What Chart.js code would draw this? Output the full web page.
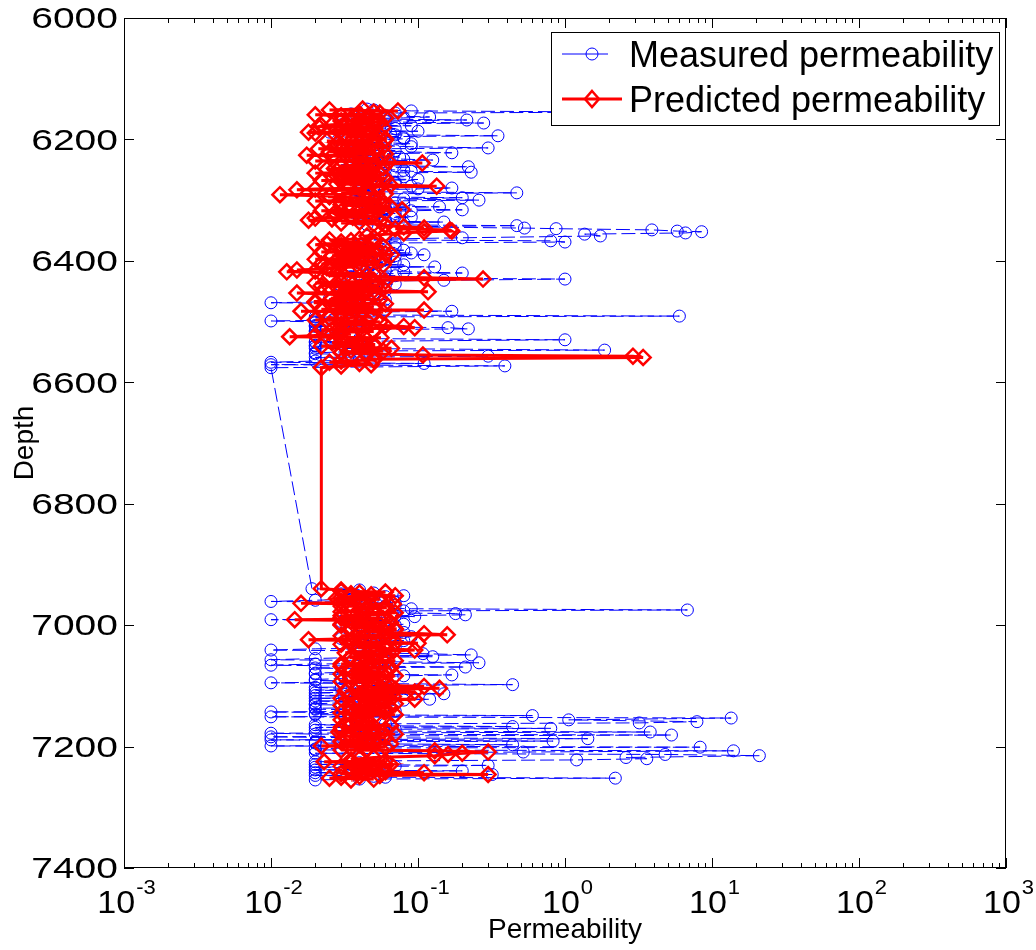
<!DOCTYPE html>
<html>
<head>
<meta charset="utf-8">
<script src="https://cdn.jsdelivr.net/npm/chart.js@4"></script>
<style>
  body { margin: 0; background: #fff; }
  #wrap { width: 1036px; height: 950px; }
</style>
</head>
<body>
<div id="wrap"><canvas id="permChart"></canvas></div>
<script>
// depth samples (ft) shared by both curves
const depth = [
  6150,6153,6155,6158,6161,6163,6166,6168,6171,6173,6176,6179,6182,6185,6188,6191,6194,6197,6201,6204,
  6207,6210,6214,6217,6220,6222,6226,6229,6231,6234,6237,6239,6242,6245,6248,6251,6254,6257,6260,6263,
  6266,6269,6272,6275,6277,6280,6283,6286,6288,6291,6293,6296,6300,6303,6306,6309,6311,6314,6316,6319,
  6322,6325,6328,6331,6333,6336,6339,6342,6344,6346,6347,6349,6351,6352,6354,6356,6359,6362,6364,6367,
  6369,6372,6375,6378,6381,6384,6387,6390,6393,6396,6399,6402,6405,6408,6410,6413,6415,6418,6420,6423,
  6426,6428,6430,6432,6435,6438,6441,6444,6447,6449,6451,6453,6456,6459,6462,6465,6469,6472,6475,6478,
  6481,6483,6486,6489,6491,6494,6496,6499,6502,6505,6508,6510,6512,6515,6518,6521,6525,6528,6530,6533,
  6536,6539,6542,6544,6547,6550,6553,6555,6557,6559,6562,6565,6567,6569,6571,6573,6576,
  6940,6944,6947,6950,6953,6956,6959,6961,6964,6967,6970,6973,6975,6978,6981,6983,6986,6988,6991,6994,
  6997,7000,7003,7006,7009,7012,7014,7016,7019,7022,7024,7027,7030,7033,7036,7039,7041,7044,7047,7049,
  7052,7055,7057,7060,7062,7064,7066,7069,7072,7075,7079,7082,7085,7088,7091,7095,7098,7101,7104,7107,
  7110,7113,7116,7119,7122,7125,7128,7131,7134,7137,7140,7143,7146,7149,7151,7153,7156,7159,7161,7164,
  7167,7170,7173,7176,7178,7181,7184,7187,7189,7191,7194,7197,7199,7201,7204,7207,7209,7211,7213,7215,
  7218,7220,7222,7225,7228,7231,7234,7237,7240,7243,7246,7249,7252,7255
];

// measured permeability (core data)
const measured = [
  0.045,0.09,3.0,0.035,0.06,0.12,0.04,0.215,0.05,0.28,0.03,0.055,0.07,0.04,0.025,0.065,0.35,0.08,0.045,0.03,
  0.09,0.05,0.30,0.04,0.06,0.17,0.035,0.075,0.05,0.126,0.04,0.06,0.03,0.22,0.05,0.08,0.23,0.04,0.06,0.035,
  0.1,0.05,0.07,0.045,0.09,0.17,0.05,0.04,0.47,0.06,0.035,0.20,0.26,0.05,0.08,0.04,0.14,0.06,0.20,0.045,
  0.07,0.05,0.09,0.04,0.06,0.15,0.05,0.47,0.08,0.53,0.87,3.9,5.8,8.5,6.6,1.36,1.74,0.2,0.06,0.8,
  1.0,0.05,0.04,0.07,0.035,0.05,0.09,0.11,0.04,0.06,0.045,0.07,0.05,0.035,0.13,0.05,0.04,0.08,0.2,0.05,
  0.035,0.06,1.0,0.15,0.045,0.07,0.03,0.05,0.04,0.06,0.035,0.05,0.03,0.045,0.025,0.04,0.01,0.03,0.05,0.035,
  0.06,0.17,0.04,0.025,6.0,0.03,0.02,0.01,0.02,0.03,0.02,0.16,0.22,0.02,0.035,0.02,0.025,0.04,1.0,0.02,
  0.03,0.02,0.045,0.02,1.86,0.03,0.02,0.05,0.3,0.02,0.04,0.02,0.01,0.11,0.01,0.39,0.01,
  0.019,0.03,0.05,0.035,0.06,0.04,0.02,0.01,0.045,0.07,0.04,0.09,6.8,0.05,0.18,0.21,0.095,0.04,0.01,0.03,
  0.05,0.07,0.04,0.06,0.035,0.08,0.05,0.045,0.09,0.03,0.05,0.04,0.07,0.035,0.05,0.02,0.01,0.04,0.108,0.23,
  0.126,0.02,0.01,0.05,0.26,0.02,0.01,0.21,0.04,0.06,0.02,0.17,0.05,0.03,0.02,0.01,0.44,0.05,0.03,0.02,
  0.04,0.15,0.02,0.045,0.12,0.02,0.03,0.02,0.05,0.02,0.06,0.01,0.02,0.6,0.01,13.5,1.06,7.9,3.2,0.02,
  0.44,0.8,0.02,3.8,0.01,5.3,0.01,1.43,0.01,0.83,0.02,0.44,0.01,8.3,0.02,14,0.52,0.02,4.8,21,
  2.6,3.6,1.2,0.02,0.05,0.3,0.02,0.06,0.2,0.02,0.32,0.05,2.2,0.02
];

// predicted permeability (model output)
const predicted = [
  0.042,0.073,0.05,0.04,0.03,0.045,0.035,0.05,0.055,0.032,0.026,0.021,0.038,0.03,0.018,0.04,0.045,0.05,0.06,0.035,
  0.028,0.042,0.037,0.03,0.025,0.033,0.0175,0.04,0.046,0.035,0.063,0.107,0.04,0.03,0.027,0.045,0.038,0.05,0.028,0.035,
  0.042,0.03,0.04,0.065,0.134,0.04,0.015,0.03,0.045,0.0115,0.025,0.038,0.05,0.03,0.042,0.035,0.065,0.04,0.078,0.03,
  0.027,0.045,0.036,0.026,0.018,0.04,0.05,0.06,0.08,0.11,0.07,0.165,0.17,0.11,0.08,0.06,0.045,0.05,0.04,0.035,
  0.03,0.024,0.03,0.045,0.04,0.03,0.05,0.066,0.04,0.035,0.028,0.04,0.022,0.03,0.04,0.025,0.015,0.0128,0.03,0.045,
  0.04,0.11,0.277,0.05,0.03,0.036,0.022,0.04,0.03,0.045,0.117,0.015,0.03,0.04,0.026,0.035,0.02,0.04,0.028,0.035,
  0.11,0.016,0.03,0.04,0.035,0.025,0.03,0.045,0.04,0.03,0.08,0.095,0.04,0.03,0.025,0.035,0.0134,0.03,0.045,0.04,
  0.03,0.05,0.04,0.066,0.035,0.03,0.045,0.108,2.9,3.4,0.05,0.03,0.025,0.04,0.048,0.03,0.022,
  0.022,0.03,0.04,0.048,0.035,0.028,0.04,0.03,0.016,0.035,0.06,0.045,0.04,0.03,0.05,0.065,0.04,0.03,0.0145,0.035,
  0.045,0.03,0.04,0.07,0.05,0.06,0.11,0.158,0.06,0.04,0.018,0.035,0.1,0.05,0.04,0.06,0.095,0.04,0.05,0.06,
  0.035,0.045,0.05,0.04,0.06,0.03,0.045,0.05,0.04,0.035,0.05,0.04,0.06,0.045,0.04,0.05,0.06,0.11,0.14,0.05,
  0.095,0.04,0.06,0.05,0.095,0.04,0.055,0.045,0.035,0.05,0.04,0.06,0.045,0.035,0.05,0.04,0.03,0.045,0.04,0.035,
  0.05,0.04,0.03,0.029,0.04,0.05,0.035,0.045,0.04,0.03,0.05,0.04,0.022,0.06,0.045,0.13,0.3,0.2,0.16,0.13,
  0.05,0.04,0.035,0.023,0.045,0.06,0.04,0.05,0.035,0.11,0.3,0.04,0.025,0.035
];

// in-between samples of the dense core intervals
const depthInfill = [
  6151.5,6156.5,6159.5,6164.5,6169.5,6174.5,6177.5,6180.5,6183.5,6186.5,
  6189.5,6192.5,6195.5,6199,6202.5,6205.5,6208.5,6212,6215.5,6218.5,
  6224,6227.5,6232.5,6235.5,6240.5,6243.5,6246.5,6249.5,6252.5,6255.5,
  6258.5,6261.5,6264.5,6267.5,6270.5,6273.5,6278.5,6281.5,6284.5,6289.5,
  6294.5,6298,6301.5,6304.5,6307.5,6312.5,6317.5,6320.5,6323.5,6326.5,
  6329.5,6334.5,6337.5,6340.5,6365.5,6370.5,6373.5,6376.5,6379.5,6382.5,
  6385.5,6388.5,6391.5,6394.5,6397.5,6400.5,6403.5,6406.5,6411.5,6416.5,
  6421.5,6424.5,6433.5,6436.5,6439.5,6442.5,6445.5,6454.5,6457.5,6460.5,
  6463.5,6467,6470.5,6473.5,6476.5,6479.5,6484.5,6487.5,6492.5,6497.5,
  6500.5,6503.5,6506.5,6513.5,6516.5,6519.5,6523,6526.5,6534.5,6537.5,
  6540.5,6548.5,6551.5,6563.5,
  6942,6945.5,6948.5,6951.5,6954.5,6957.5,6962.5,6965.5,6968.5,6971.5,
  6976.5,6979.5,6984.5,6989.5,6992.5,6995.5,6998.5,7001.5,7004.5,7007.5,
  7010.5,7017.5,7020.5,7025.5,7028.5,7031.5,7034.5,7037.5,7042.5,7045.5,
  7050.5,7053.5,7058.5,7067.5,7070.5,7073.5,7077,7080.5,7083.5,7086.5,
  7089.5,7093,7099.5,7102.5,7105.5,7108.5,7111.5,7114.5,7117.5,7120.5,
  7123.5,7126.5,7129.5,7132.5,7135.5,7138.5,7141.5,7144.5,7147.5,7162.5,
  7165.5,7168.5,7171.5,7174.5,7179.5,7182.5,7185.5,7192.5,7195.5,7202.5,
  7205.5,7223.5,7226.5,7229.5,7232.5,7235.5,7238.5,7241.5,7244.5,7247.5,
  7250.5,7253.5
];
const measuredInfill = [
  0.05,0.07,0.04,0.08,0.06,0.035,0.09,0.045,0.06,0.1,0.04,0.07,0.05,0.08,0.035,0.06,0.045,0.09,0.05,0.07,
  0.04,0.06,0.08,0.05,0.035,0.07,0.045,0.06,0.09,0.04,0.05,0.08,0.035,0.06,0.07,0.045,0.05,0.1,0.04,0.06,
  0.035,0.08,0.05,0.07,0.045,0.06,0.09,0.04,0.05,0.07,0.035,0.06,0.08,0.045,0.05,0.07,0.04,0.06,0.035,0.08,
  0.05,0.045,0.07,0.04,0.06,0.035,0.05,0.08,0.045,0.06,0.04,0.07,0.05,0.035,0.06,0.045,0.03,0.05,0.04,0.035,
  0.06,0.03,0.045,0.04,0.03,0.05,0.035,0.04,0.02,0.03,0.02,0.045,0.02,0.03,0.02,0.035,0.02,0.03,0.02,0.04,
  0.02,0.03,0.02,0.035,
  0.04,0.06,0.03,0.08,0.05,0.035,0.07,0.04,0.06,0.045,0.08,0.05,0.07,0.04,0.06,0.035,0.08,0.05,0.045,0.07,
  0.04,0.06,0.05,0.08,0.035,0.06,0.045,0.07,0.05,0.04,0.06,0.035,0.07,0.045,0.02,0.06,0.04,0.02,0.08,0.05,
  0.02,0.06,0.04,0.02,0.07,0.045,0.02,0.06,0.035,0.02,0.08,0.04,0.02,0.06,0.05,0.02,0.07,0.045,0.02,0.06,
  0.04,0.02,0.07,0.05,0.02,0.06,0.04,0.02,0.05,0.03,0.02,0.06,0.04,0.02,0.07,0.045,0.02,0.05,0.035,0.02,
  0.06,0.04
];
const predictedInfill = [
  0.025,0.055,0.02,0.06,0.03,0.05,0.022,0.058,0.028,0.048,0.02,0.055,0.032,0.06,0.024,0.05,0.03,0.058,0.021,0.052,
  0.06,0.026,0.055,0.02,0.05,0.03,0.058,0.024,0.048,0.02,0.056,0.03,0.06,0.022,0.05,0.028,0.055,0.02,0.045,0.06,
  0.025,0.055,0.02,0.058,0.03,0.05,0.022,0.06,0.028,0.048,0.02,0.055,0.03,0.06,0.025,0.05,0.02,0.058,0.03,0.052,
  0.022,0.06,0.026,0.05,0.02,0.055,0.03,0.058,0.024,0.02,0.05,0.025,0.06,0.02,0.052,0.028,0.058,0.022,0.05,0.03,
  0.055,0.02,0.06,0.026,0.05,0.022,0.058,0.03,0.048,0.02,0.055,0.025,0.06,0.022,0.05,0.03,0.02,0.056,0.026,0.05,
  0.022,0.058,0.03,0.05,
  0.03,0.06,0.035,0.07,0.03,0.055,0.04,0.068,0.03,0.06,0.035,0.07,0.03,0.058,0.04,0.065,0.03,0.06,0.035,0.07,
  0.04,0.03,0.065,0.035,0.07,0.03,0.06,0.04,0.068,0.032,0.06,0.035,0.07,0.03,0.065,0.04,0.06,0.03,0.07,0.035,
  0.058,0.03,0.065,0.04,0.07,0.032,0.06,0.035,0.068,0.03,0.06,0.04,0.07,0.03,0.065,0.035,0.058,0.03,0.07,0.035,
  0.065,0.03,0.06,0.04,0.07,0.032,0.06,0.03,0.065,0.035,0.03,0.06,0.035,0.065,0.03,0.058,0.04,0.06,0.03,0.055,
  0.03,0.05
];

// axis ticks
const xTickExp = [-3, -2, -1, 0, 1, 2, 3];
const yTicks = [6000, 6200, 6400, 6600, 6800, 7000, 7200, 7400];
const seriesNames = ['Measured permeability', 'Predicted permeability'];

const FONT = '"Liberation Sans", Arial, Helvetica, sans-serif';
const BLUE = '#0000ff';
const RED = '#ff0000';

// merge both sample lists in depth order
const rows = depth.map((d, i) => [d, measured[i], predicted[i]])
  .concat(depthInfill.map((d, i) => [d, measuredInfill[i], predictedInfill[i]]))
  .sort((a, b) => a[0] - b[0]);
const measuredPts = rows.map(r => ({ x: r[1], y: r[0] }));
const predictedPts = rows.map(r => ({ x: r[2], y: r[0] }));

function stretchText(ctx, txt, x, y, sx) {
  ctx.save();
  ctx.translate(x, y);
  ctx.scale(sx, 1);
  ctx.fillText(txt, 0, 0);
  ctx.restore();
}

// MATLAB style box, inward ticks, labels and legend
const matlabAxes = {
  id: 'matlabAxes',
  afterDraw(chart) {
    const { ctx, chartArea: a, scales: { x, y } } = chart;
    ctx.save();
    ctx.strokeStyle = '#000';
    ctx.lineWidth = 1;
    ctx.strokeRect(a.left + 0.5, a.top + 0.5, a.right - a.left - 1, a.bottom - a.top - 1);

    // x ticks (log, with minor ticks)
    ctx.beginPath();
    xTickExp.forEach(e => {
      for (let k = 1; k <= 9; k++) {
        if (e === xTickExp[xTickExp.length - 1] && k > 1) break;
        const px = Math.round(x.getPixelForValue(k * Math.pow(10, e))) + 0.5;
        const len = k === 1 ? 10 : 5;
        ctx.moveTo(px, a.bottom); ctx.lineTo(px, a.bottom - len);
        ctx.moveTo(px, a.top); ctx.lineTo(px, a.top + len);
      }
    });
    // y ticks
    yTicks.forEach(v => {
      const py = Math.round(y.getPixelForValue(v)) + 0.5;
      ctx.moveTo(a.left, py); ctx.lineTo(a.left + 10, py);
      ctx.moveTo(a.right, py); ctx.lineTo(a.right - 10, py);
    });
    ctx.stroke();

    ctx.fillStyle = '#000';
    // y tick labels
    ctx.font = '30px ' + FONT;
    ctx.textAlign = 'right';
    ctx.textBaseline = 'middle';
    yTicks.forEach(v => {
      stretchText(ctx, String(v), a.left - 6, y.getPixelForValue(v) + 2, 1.3);
    });

    // x tick labels 10^n
    ctx.textAlign = 'left';
    ctx.textBaseline = 'alphabetic';
    xTickExp.forEach(e => {
      const px = x.getPixelForValue(Math.pow(10, e));
      ctx.font = '31px ' + FONT;
      const wBase = ctx.measureText('10').width * 1.1;
      ctx.font = '20px ' + FONT;
      const wExp = ctx.measureText(String(e)).width * 1.1;
      const start = px - (wBase + wExp) / 2 + 2;
      ctx.font = '31px ' + FONT;
      stretchText(ctx, '10', start, a.bottom + 45, 1.1);
      ctx.font = '20px ' + FONT;
      stretchText(ctx, String(e), start + wBase + 1, a.bottom + 26, 1.1);
    });

    // legend
    const lx = 551, ly = 32, lw = 448, lh = 93;
    ctx.fillStyle = '#fff';
    ctx.fillRect(lx, ly, lw, lh);
    ctx.strokeStyle = '#000';
    ctx.lineWidth = 1;
    ctx.strokeRect(lx + 0.5, ly + 0.5, lw, lh);

    // measured sample
    ctx.strokeStyle = BLUE;
    ctx.lineWidth = 1;
    ctx.beginPath();
    ctx.moveTo(562, 54); ctx.lineTo(608, 54);
    ctx.stroke();
    ctx.beginPath();
    ctx.arc(592, 54, 6, 0, Math.PI * 2);
    ctx.stroke();
    // predicted sample
    ctx.strokeStyle = RED;
    ctx.lineWidth = 3;
    ctx.beginPath();
    ctx.moveTo(562, 99); ctx.lineTo(622, 99);
    ctx.stroke();
    ctx.lineWidth = 2.5;
    ctx.beginPath();
    ctx.moveTo(592, 91); ctx.lineTo(599, 99); ctx.lineTo(592, 107); ctx.lineTo(585, 99); ctx.closePath();
    ctx.stroke();

    ctx.fillStyle = '#000';
    ctx.font = '36px ' + FONT;
    ctx.textAlign = 'left';
    ctx.textBaseline = 'alphabetic';
    ctx.fillText(seriesNames[0], 629, 67);
    ctx.fillText(seriesNames[1], 629, 112);
    ctx.restore();
  }
};

const ctx = document.getElementById('permChart').getContext('2d');
const chart = new Chart(ctx, {
  type: 'scatter',
  data: {
    datasets: [
      {
        label: seriesNames[0],
        data: measuredPts,
        showLine: true,
        borderColor: BLUE,
        borderWidth: 1,
        borderDash: [14, 5],
        pointStyle: 'circle',
        pointRadius: 6,
        pointBorderWidth: 1,
        pointBorderColor: BLUE,
        pointBackgroundColor: 'rgba(0,0,0,0)',
        order: 2
      },
      {
        label: seriesNames[1],
        data: predictedPts,
        showLine: true,
        borderColor: RED,
        borderWidth: 3,
        pointStyle: 'rectRot',
        pointRadius: 7.5,
        pointBorderWidth: 2.5,
        pointBorderColor: RED,
        pointBackgroundColor: 'rgba(0,0,0,0)',
        order: 1
      }
    ]
  },
  options: {
    responsive: true,
    maintainAspectRatio: false,
    animation: false,
    layout: { padding: { left: 0, right: 30, top: 18, bottom: 0 } },
    plugins: { legend: { display: false }, tooltip: { enabled: false } },
    scales: {
      x: {
        type: 'logarithmic',
        min: 0.001,
        max: 1000,
        grid: { display: false },
        border: { display: false },
        ticks: { display: false },
        title: { display: true, text: 'Permeability', color: '#000', font: { size: 28, family: FONT }, padding: { top: 0, bottom: 3 } },
        afterFit: s => { s.height = 82; s.paddingLeft = 0; s.paddingRight = 0; }
      },
      y: {
        type: 'linear',
        reverse: true,
        min: 6000,
        max: 7400,
        grid: { display: false },
        border: { display: false },
        ticks: { display: false, stepSize: 200 },
        title: { display: true, text: 'Depth', color: '#000', font: { size: 28, family: FONT }, padding: { top: 8, bottom: 0 } },
        afterFit: s => { s.width = 124; s.paddingTop = 0; s.paddingBottom = 0; }
      }
    }
  },
  plugins: [matlabAxes]
});
</script>
</body>
</html>
